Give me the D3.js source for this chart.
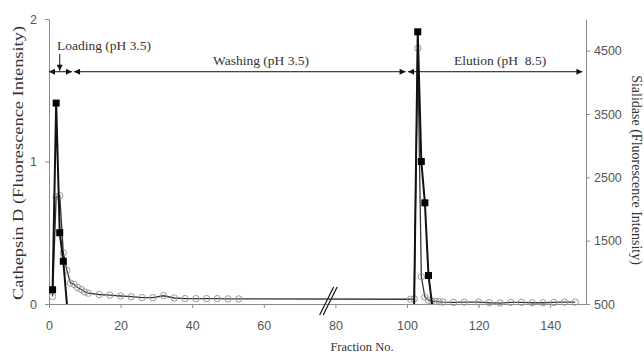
<!DOCTYPE html>
<html>
<head>
<meta charset="utf-8">
<script src="https://cdn.jsdelivr.net/npm/d3@7"></script>
<style>
  body { margin: 0; background: #fff; }
  svg { display: block; font-family: "Liberation Serif", "Times New Roman", serif; }
</style>
</head>
<body>
<div id="chart"></div>
<script>
// Cathepsin D (left axis), null = break in the line
const cathepsinFractions = [1, 2, 3, 4, 5, null, 102, 103, 104, 105, 106, 107];
const cathepsinValues    = [0.1, 1.41, 0.5, 0.3, 0, null, 0, 1.91, 1.0, 0.71, 0.2, 0];

// Sialidase (right axis)
const sialidaseFractions = [1, 2, 3, 4, 5, 6, 7, 8, 9, 10, 11, 14, 17, 20, 23, 26, 29, 32, 35, 38, 41, 44, 47, 50, 53,
  101, 102, 103, 104, 105, 106, 107, 108, 109, 110, 113, 116, 120, 123, 126, 129, 132, 135, 138, 141, 144, 147];
const sialidaseValues = [620, 2190, 2210, 1310, 1030, 830, 810, 760, 730, 690, 670, 650, 640, 626, 615, 600, 600, 630, 595, 585, 585, 585, 585, 580, 580,
  575, 580, 4540, 930, 610, 560, 545, 540, 535, 530, 525, 530, 530, 520, 515, 525, 525, 520, 520, 525, 530, 530];

const xTicks = [0, 20, 40, 60, 80, 100, 120, 140];
const leftTicks = [0, 1, 2];
const rightTicks = [500, 1500, 2500, 3500, 4500];

// phase annotations: [start fraction, end fraction, label]
const phases = [
  { from: 0, to: 6.4, label: "Loading (pH 3.5)" },
  { from: 7, to: 99.6, label: "Washing (pH 3.5)" },
  { from: 100.3, to: 149, label: "Elution (pH  8.5)" }
];
const arrowLevel = 1.63;
const breakAt = 77;

const width = 644, height = 354;
const margin = { top: 19, right: 58, bottom: 50, left: 49 };

const svg = d3.select('#chart').append('svg')
  .attr('width', width)
  .attr('height', height);

const x = d3.scaleLinear().domain([0, 150]).range([margin.left, width - margin.right]);
const yL = d3.scaleLinear().domain([0, 2]).range([height - margin.bottom, margin.top]);
const yR = d3.scaleLinear().domain([500, 5000]).range([height - margin.bottom, margin.top]);

const axisColor = '#8a8a8a';
const labelColor = '#555';
const plain = d3.format('d');

const defs = svg.append('defs');
['start', 'end'].forEach(k => {
  defs.append('marker')
    .attr('id', 'arr-' + k)
    .attr('viewBox', '0 0 10 10')
    .attr('refX', k === 'end' ? 10 : 0)
    .attr('refY', 5)
    .attr('markerWidth', 7)
    .attr('markerHeight', 6)
    .attr('markerUnits', 'userSpaceOnUse')
    .attr('orient', 'auto')
    .append('path')
    .attr('d', k === 'end' ? 'M0,0L10,5L0,10z' : 'M10,0L0,5L10,10z')
    .attr('fill', '#111');
});

function styleAxis(g) {
  g.select('.domain').attr('stroke', axisColor);
  g.selectAll('.tick line').attr('stroke', axisColor);
  g.selectAll('.tick text').attr('fill', labelColor).style('font-size', '12.5px');
}

// X axis
svg.append('g')
  .attr('transform', `translate(0,${yL(0)})`)
  .call(d3.axisBottom(x).tickValues(xTicks).tickFormat(plain).tickSize(4).tickPadding(13).tickSizeOuter(0))
  .call(styleAxis);

// Left axis
svg.append('g')
  .attr('transform', `translate(${margin.left},0)`)
  .call(d3.axisLeft(yL).tickValues(leftTicks).tickFormat(plain).tickSize(4).tickPadding(8).tickSizeOuter(0))
  .call(styleAxis);

// Right axis
svg.append('g')
  .attr('transform', `translate(${width - margin.right},0)`)
  .call(d3.axisRight(yR).tickValues(rightTicks).tickFormat(plain).tickSize(4).tickPadding(4).tickSizeOuter(0))
  .call(styleAxis);

// Axis break
const bx = x(breakAt), by = yL(0);
[0, 3.5].forEach(off => {
  svg.append('line')
    .attr('x1', bx - 5 + off).attr('y1', by + 11)
    .attr('x2', bx + 9 + off).attr('y2', by - 17)
    .attr('stroke', '#111').attr('stroke-width', 1.2);
});

// Sialidase series
const sData = sialidaseFractions.map((f, i) => ({ f, v: sialidaseValues[i] }));
svg.append('path')
  .datum(sData)
  .attr('fill', 'none')
  .attr('stroke', '#333')
  .attr('stroke-width', 1.3)
  .attr('d', d3.line().x(d => x(d.f)).y(d => yR(d.v)));

svg.selectAll('.sia')
  .data(sData)
  .enter()
  .append('circle')
  .attr('class', 'sia')
  .attr('cx', d => x(d.f))
  .attr('cy', d => yR(d.v))
  .attr('r', 3.2)
  .attr('fill', 'none')
  .attr('stroke', '#9a9a9a')
  .attr('stroke-width', 1);

// Cathepsin D series
const cData = cathepsinFractions.map((f, i) => ({ f, v: cathepsinValues[i] }));
svg.append('path')
  .datum(cData)
  .attr('fill', 'none')
  .attr('stroke', '#111')
  .attr('stroke-width', 2)
  .attr('d', d3.line().defined(d => d.f !== null).x(d => x(d.f)).y(d => yL(d.v)));

const sq = 7;
svg.selectAll('.cat')
  .data(cData.filter(d => d.f !== null && d.v > 0))
  .enter()
  .append('rect')
  .attr('class', 'cat')
  .attr('x', d => x(d.f) - sq / 2)
  .attr('y', d => yL(d.v) - sq / 2)
  .attr('width', sq)
  .attr('height', sq)
  .attr('fill', '#000');

// Phase arrows
const ay = yL(arrowLevel);
svg.selectAll('.phase')
  .data(phases)
  .enter()
  .append('line')
  .attr('class', 'phase')
  .attr('x1', d => x(d.from))
  .attr('x2', d => x(d.to))
  .attr('y1', ay)
  .attr('y2', ay)
  .attr('stroke', '#111')
  .attr('stroke-width', 1)
  .attr('marker-start', 'url(#arr-start)')
  .attr('marker-end', 'url(#arr-end)');

// Loading pointer
svg.append('line')
  .attr('x1', x(3)).attr('x2', x(3))
  .attr('y1', 54).attr('y2', ay - 1)
  .attr('stroke', '#111')
  .attr('marker-end', 'url(#arr-end)');

const labelPos = [[57, 50], [213, 65], [454, 65]];
svg.selectAll('.phase-label')
  .data(phases)
  .enter()
  .append('text')
  .attr('class', 'phase-label')
  .attr('x', (d, i) => labelPos[i][0])
  .attr('y', (d, i) => labelPos[i][1])
  .attr('fill', '#333')
  .style('font-size', '13.5px')
  .style('white-space', 'pre')
  .text(d => d.label);

// Axis titles
svg.append('text')
  .attr('x', 362).attr('y', 351)
  .attr('text-anchor', 'middle')
  .attr('fill', '#333')
  .style('font-size', '12.5px')
  .text('Fraction No.');

svg.append('text')
  .attr('transform', 'translate(23,163) rotate(-90)')
  .attr('text-anchor', 'middle')
  .attr('fill', '#333')
  .style('font-size', '14.5px')
  .attr('textLength', 274)
  .attr('lengthAdjust', 'spacingAndGlyphs')
  .text('Cathepsin D (Fluorescence Intensity)');

svg.append('text')
  .attr('transform', 'translate(632,170) rotate(90)')
  .attr('text-anchor', 'middle')
  .attr('fill', '#333')
  .style('font-size', '14px')
  .text('Sialidase (Fluorescence Intensity)');
</script>
</body>
</html>
